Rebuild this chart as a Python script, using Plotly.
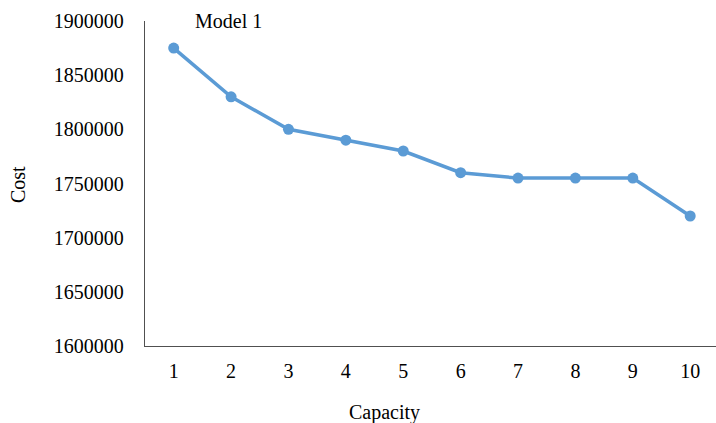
import plotly.graph_objects as go

capacity = [1, 2, 3, 4, 5, 6, 7, 8, 9, 10]
cost = [1875000, 1830000, 1800000, 1790000, 1780000, 1760000, 1755000, 1755000, 1755000, 1720000]
y_ticks = [1600000, 1650000, 1700000, 1750000, 1800000, 1850000, 1900000]

font_family = "Liberation Serif, Times New Roman, serif"
FS = 20

fig = go.Figure()
fig.add_trace(go.Scatter(
    x=capacity, y=cost, mode="lines+markers",
    line=dict(color="#5B9BD5", width=3.5),
    marker=dict(color="#5B9BD5", size=11),
    showlegend=False, hoverinfo="skip",
))

L, R, T, B = 145, 0, 21, 77
W, H = 716, 423

fig.update_layout(
    width=W, height=H,
    margin=dict(l=L, r=R, t=T, b=B, pad=0),
    paper_bgcolor="white", plot_bgcolor="white",
    font=dict(family=font_family, size=FS, color="#000000"),
    xaxis=dict(
        range=[0.5, 10.45], tickvals=capacity, ticktext=[str(c) for c in capacity],
        showgrid=False, zeroline=False, showline=True, linecolor="#505050", linewidth=1.3,
        ticks="", ticklabelstandoff=7,
        tickfont=dict(family=font_family, size=FS, color="#000000"),
    ),
    yaxis=dict(
        range=[1600000, 1900000], tickvals=y_ticks, ticktext=[str(v) for v in y_ticks],
        showgrid=False, zeroline=False, showline=True, linecolor="#505050", linewidth=1.3,
        ticks="", ticklabelstandoff=16,
        tickfont=dict(family=font_family, size=FS, color="#000000"),
    ),
)

pw = W - L - R
ph = H - T - B


def px_to_paper(px, py):
    return (px - L) / pw, (H - B - py) / ph


cx, cy = px_to_paper(384, 412)
sx, sy = px_to_paper(18, 185)

fig.add_annotation(text="Model 1", x=1.96, y=1900000, xref="x", yref="y", showarrow=False,
                   font=dict(family=font_family, size=FS, color="#000000"),
                   xanchor="center", yanchor="middle")
fig.add_annotation(text="Capacity", x=cx, y=cy, xref="paper", yref="paper", showarrow=False,
                   font=dict(family=font_family, size=FS, color="#000000"),
                   xanchor="center", yanchor="middle")
fig.add_annotation(text="Cost", textangle=-90, x=sx, y=sy, xref="paper", yref="paper", showarrow=False,
                   font=dict(family=font_family, size=FS, color="#000000"),
                   xanchor="center", yanchor="middle")

fig.write_html("out.html", config={"displayModeBar": False})

with open("out.html", "r", encoding="utf-8") as f:
    html = f.read()
html = html.replace("<body>", '<body style="margin:0;padding:0;overflow:hidden">', 1)
html = html.replace("<head>", '<head><style>html,body{margin:0;padding:0;}</style>', 1)
with open("out.html", "w", encoding="utf-8") as f:
    f.write(html)
